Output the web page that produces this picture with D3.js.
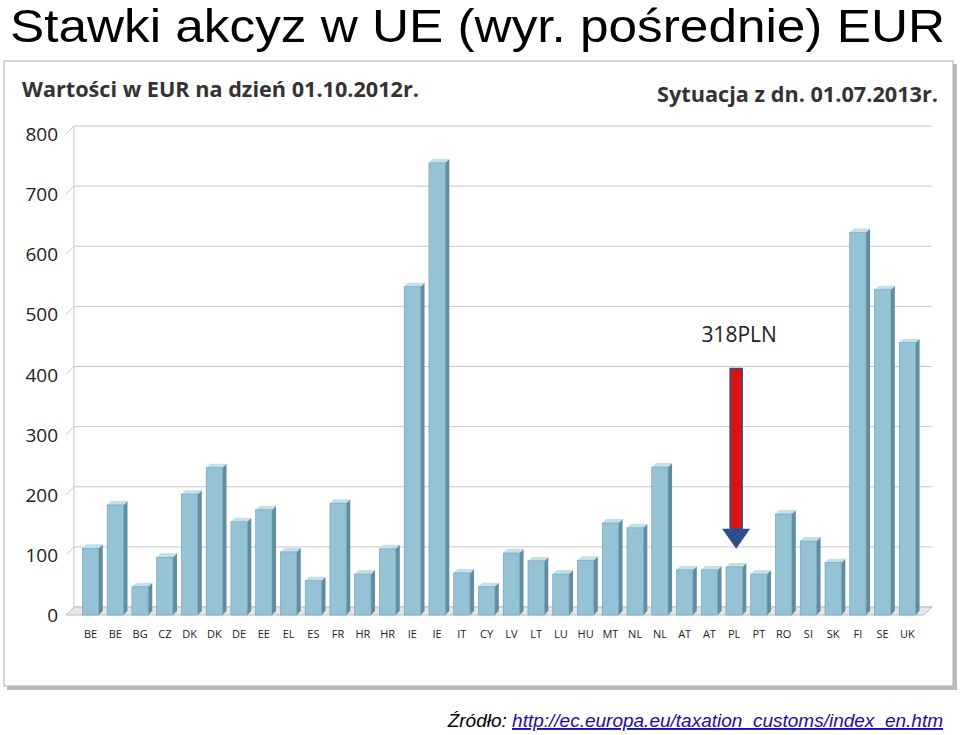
<!DOCTYPE html>
<html>
<head>
<meta charset="utf-8">
<script src="https://cdn.jsdelivr.net/npm/d3@7"></script>
<style>
  body { margin: 0; background: #fff; }
  svg { display: block; }
</style>
</head>
<body>
<svg id="chart" width="960" height="735"></svg>
<script>
const countries = ["BE","BE","BG","CZ","DK","DK","DE","EE","EL","ES","FR","HR","HR","IE","IE","IT","CY","LV","LT","LU","HU","MT","NL","NL","AT","AT","PL","PT","RO","SI","SK","FI","SE","UK"];
const values = [111,183,47,96,201,245,155,175,105,57,186,68,110,546,752,70,47,103,90,68,91,153,145,246,75,75,80,68,168,123,87,636,541,453];
const yTicks = [0,100,200,300,400,500,600,700,800];
const plArrow = { country: 26, from: 410, to: 120, label: "318PLN" };

const svg = d3.select("#chart");

svg.append("text")
  .attr("x", 10).attr("y", 42)
  .attr("font-family", "Liberation Sans, Arial, sans-serif")
  .attr("font-size", 47)
  .attr("textLength", 935).attr("lengthAdjust", "spacingAndGlyphs")
  .text("Stawki akcyz w UE (wyr. pośrednie) EUR");

// picture frame
svg.append("rect").attr("x", 7).attr("y", 64).attr("width", 950).attr("height", 626).attr("fill", "#bbb");
svg.append("rect").attr("x", 4).attr("y", 61).attr("width", 949).attr("height", 625)
  .attr("fill", "#fff").attr("stroke", "#aaa");

svg.append("text").attr("x", 22).attr("y", 97)
  .attr("font-family", "Open Sans, sans-serif").attr("font-weight", "bold")
  .attr("font-size", 21).attr("fill", "#333")
  .attr("textLength", 397).attr("lengthAdjust", "spacingAndGlyphs")
  .text("Wartości w EUR na dzień 01.10.2012r.");
svg.append("text").attr("x", 657).attr("y", 102)
  .attr("font-family", "Open Sans, sans-serif").attr("font-weight", "bold")
  .attr("font-size", 21).attr("fill", "#333")
  .attr("textLength", 281).attr("lengthAdjust", "spacingAndGlyphs")
  .text("Sytuacja z dn. 01.07.2013r.");

const left = 74, right = 924, depth = 8;
const y = d3.scaleLinear().domain([0, 800]).range([615, 134]);
const x = d3.scaleBand().domain(d3.range(countries.length)).range([left, right]).padding(0.34);

const grid = svg.append("g");
yTicks.forEach(t => {
  grid.append("line").attr("x1", left).attr("x2", right + depth)
    .attr("y1", y(t) - depth).attr("y2", y(t) - depth)
    .attr("stroke", "#c8c8c8");
  grid.append("line").attr("x1", left - depth).attr("x2", left)
    .attr("y1", y(t)).attr("y2", y(t) - depth)
    .attr("stroke", "#c8c8c8");
  grid.append("text").attr("x", 58).attr("y", y(t) + 7)
    .attr("text-anchor", "end")
    .attr("font-family", "Open Sans, sans-serif").attr("font-size", 19).attr("fill", "#222")
    .text(t);
});
// floor
grid.append("path")
  .attr("d", `M${left - depth},${y(0)} L${right},${y(0)} L${right + depth},${y(0) - depth} L${left},${y(0) - depth}Z`)
  .attr("fill", "#e6e6e6").attr("stroke", "#bbb");
grid.append("line").attr("x1", left).attr("x2", left).attr("y1", y(0) - depth).attr("y2", y(800) - depth).attr("stroke", "#c8c8c8");

const bars = svg.append("g").selectAll("g").data(values).join("g");
const bw = x.bandwidth(), sd = 4;
bars.append("path")
  .attr("d", (d, i) => `M${x(i) + bw},${y(d)} L${x(i) + bw + sd},${y(d) - sd} L${x(i) + bw + sd},${y(0) - sd} L${x(i) + bw},${y(0)}Z`)
  .attr("fill", "#5f8ea0");
bars.append("path")
  .attr("d", (d, i) => `M${x(i)},${y(d)} L${x(i) + sd},${y(d) - sd} L${x(i) + bw + sd},${y(d) - sd} L${x(i) + bw},${y(d)}Z`)
  .attr("fill", "#c3e0ea");
bars.append("rect")
  .attr("x", (d, i) => x(i)).attr("y", d => y(d))
  .attr("width", bw).attr("height", d => y(0) - y(d))
  .attr("fill", "#93c3d4").attr("stroke", "#6e9cae").attr("stroke-width", 0.6);

svg.append("g").selectAll("text").data(countries).join("text")
  .attr("x", (d, i) => x(i) + bw / 2).attr("y", 638)
  .attr("text-anchor", "middle")
  .attr("font-family", "Open Sans, sans-serif").attr("font-size", 11).attr("fill", "#222")
  .text(d => d);

// PL arrow
const ax = x(plArrow.country) + bw / 2 + 2;
svg.append("rect").attr("x", ax - 6).attr("y", y(plArrow.from)).attr("width", 12)
  .attr("height", y(plArrow.to) - y(plArrow.from) - 14)
  .attr("fill", "#e01010").attr("stroke", "#2c4f8c").attr("stroke-width", 1.5);
svg.append("path")
  .attr("d", `M${ax - 14},${y(plArrow.to) - 14} L${ax + 14},${y(plArrow.to) - 14} L${ax},${y(plArrow.to) + 6}Z`)
  .attr("fill", "#2c4f8c");
svg.append("text").attr("x", ax + 3).attr("y", 342).attr("text-anchor", "middle")
  .attr("font-family", "Open Sans, sans-serif").attr("font-size", 21).attr("fill", "#222")
  .text(plArrow.label);

// source
const src = svg.append("text").attr("x", 943).attr("y", 727).attr("text-anchor", "end")
  .attr("font-family", "Liberation Sans, Arial, sans-serif").attr("font-style", "italic").attr("font-size", 19);
src.append("tspan").text("Źródło: ");
src.append("tspan").attr("fill", "#1a0dab").attr("text-decoration", "underline")
  .text("http://ec.europa.eu/taxation_customs/index_en.htm");
</script>
</body>
</html>
